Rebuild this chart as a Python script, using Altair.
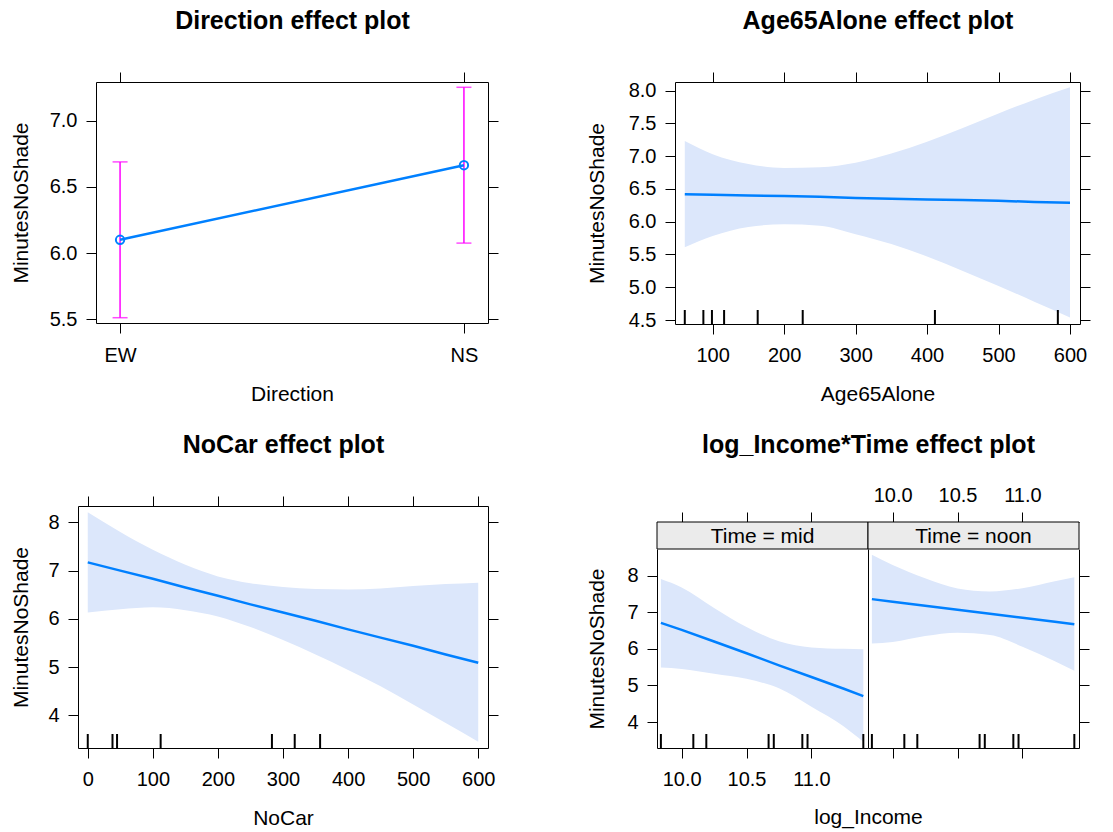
import altair as alt
import pandas as pd

W, H = 1113, 832
FONT = "Liberation Sans"
INK = "#000000"
FIT_BLUE = "#0080ff"
BAND_BLUE = "#dce7fb"
BAR_MAGENTA = "#ff00ff"
STRIP_GREY = "#ebebeb"

# ---- Direction effect ----
direction = ["EW", "NS"]
dir_fit = [6.10, 6.665]
dir_lower = [5.51, 6.075]
dir_upper = [6.69, 7.255]

# ---- Age65Alone effect ----
age_x = [61, 100, 150, 200, 250, 300, 350, 400, 450, 500, 550, 600]
age_fit = [6.42, 6.41, 6.40, 6.39, 6.38, 6.36, 6.35, 6.34, 6.33, 6.32, 6.30, 6.29]
age_lower = [5.61, 5.78, 5.92, 5.96, 5.94, 5.81, 5.66, 5.47, 5.25, 5.02, 4.78, 4.54]
age_upper = [7.23, 7.03, 6.88, 6.82, 6.83, 6.90, 7.04, 7.22, 7.43, 7.65, 7.86, 8.05]
age_rug = [61, 87, 99, 116, 163, 226, 411, 583]

# ---- NoCar effect ----
nocar_x = [0, 50, 100, 150, 200, 250, 300, 350, 400, 450, 500, 550, 600]
nocar_fit = [7.17, 7.00, 6.83, 6.65, 6.48, 6.30, 6.13, 5.96, 5.78, 5.61, 5.44, 5.26, 5.09]
nocar_lower = [6.13, 6.20, 6.24, 6.18, 6.05, 5.83, 5.56, 5.26, 4.94, 4.60, 4.22, 3.84, 3.45]
nocar_upper = [8.21, 7.80, 7.43, 7.12, 6.88, 6.74, 6.66, 6.62, 6.61, 6.63, 6.68, 6.72, 6.75]
nocar_rug = [0, 38, 45, 112, 283, 318, 357]

# ---- log_Income * Time effect ----
time_levels = ["mid", "noon"]
strip_labels = ["Time = mid", "Time = noon"]
inc_x = [9.84, 10.0, 10.25, 10.5, 10.75, 11.0, 11.25, 11.40]
mid_fit = [6.71, 6.52, 6.20, 5.88, 5.55, 5.23, 4.91, 4.71]
mid_lower = [5.49, 5.45, 5.32, 5.18, 4.92, 4.42, 3.88, 3.46]
mid_upper = [7.91, 7.68, 7.12, 6.60, 6.21, 6.04, 6.00, 5.99]
noon_fit = [7.36, 7.29, 7.18, 7.07, 6.96, 6.85, 6.74, 6.67]
noon_lower = [6.15, 6.19, 6.35, 6.44, 6.38, 6.06, 5.66, 5.40]
noon_upper = [8.57, 8.29, 7.93, 7.65, 7.57, 7.66, 7.85, 7.96]
inc_rug = [9.84, 10.09, 10.19, 10.67, 10.71, 10.93, 10.97, 11.40]


def make_axis(orient, edge, values=None, fmt=None, labels=False, ticks=True,
              label_pad=None, title=None, title_at=None, title_along=None,
              main=False):
    """Axis pinned to one edge of a panel frame inside the shared canvas."""
    offset = {"left": -edge, "right": edge - W,
              "top": -edge, "bottom": edge - H}[orient]
    kw = dict(orient=orient, offset=offset, labels=labels, ticks=ticks,
              tickSize=10, grid=False, domain=True, labelFlush=False,
              labelOverlap=False, labelAngle=0)
    if values is not None:
        kw["values"] = values
    if fmt:
        kw["format"] = fmt
    if labels:
        if orient in ("bottom", "top"):
            kw["labelBaseline"] = "alphabetic"
        kw["labelPadding"] = label_pad if label_pad is not None else 9
    if title:
        kw["title"] = title
        kw["titleBaseline"] = "alphabetic"
        if orient == "left":
            kw["titleX"] = title_at - edge
            kw["titleAngle"] = 270
        else:
            kw["titleY"] = title_at - edge
        if title_along is not None:
            kw["titleX"] = title_along
        if main:
            kw["titleFontWeight"] = "bold"
            kw["titleFontSize"] = 25
    else:
        kw["title"] = ""
    return alt.Axis(**kw)


def curve_panel(df, rug, xdom, ydom, L, R, T, B, xvals, yvals, xfmt, yfmt,
                xtitle, main, ytitle_x):
    xs = alt.Scale(domain=xdom, range=[L, R], nice=False, zero=False)
    ys = alt.Scale(domain=ydom, range=[B, T], nice=False, zero=False)
    band = alt.Chart(df).mark_area(color=BAND_BLUE, opacity=1,
                                   interpolate="monotone").encode(
        x=alt.X("x:Q", scale=xs,
                axis=make_axis("bottom", B, xvals, xfmt, labels=True, label_pad=27,
                               title=xtitle, title_at=B + 76)),
        y=alt.Y("lower:Q", scale=ys,
                axis=make_axis("left", L, yvals, yfmt, labels=True,
                               title="MinutesNoShade", title_at=ytitle_x)),
        y2="upper:Q",
    )
    line = alt.Chart(df).mark_line(color=FIT_BLUE, strokeWidth=2.5).encode(
        x=alt.X("x:Q", scale=xs,
                axis=make_axis("top", T, xvals, title=main, title_at=T - 54, main=True)),
        y=alt.Y("fit:Q", scale=ys, axis=make_axis("right", R, yvals)),
    )
    rugs = alt.Chart(rug).mark_rule(color=INK, strokeWidth=2).encode(
        x=alt.X("x:Q", scale=xs, axis=None),
        y=alt.value(B), y2=alt.value(B - 14),
    )
    return alt.layer(band, line, rugs).resolve_axis(x="independent", y="independent")


# ---- panel 1: Direction ----
L1, R1, T1, B1 = 96, 488, 82, 323
dir_df = pd.DataFrame({"Direction": direction, "fit": dir_fit,
                       "lower": dir_lower, "upper": dir_upper})
xs1 = alt.Scale(type="point", domain=direction, range=[L1, R1], padding=0.07)
ys1 = alt.Scale(domain=[5.47, 7.295], range=[B1, T1], nice=False, zero=False)
yv1 = [5.5, 6.0, 6.5, 7.0]
bars = alt.Chart(dir_df).mark_rule(color=BAR_MAGENTA, strokeWidth=1.5).encode(
    x=alt.X("Direction:N", scale=xs1,
            axis=make_axis("bottom", B1, labels=True, label_pad=28,
                           title="Direction", title_at=400)),
    y=alt.Y("lower:Q", scale=ys1,
            axis=make_axis("left", L1, yv1, ".1f", labels=True,
                           title="MinutesNoShade", title_at=27)),
    y2="upper:Q",
)
cap_lo = alt.Chart(dir_df).mark_tick(color=BAR_MAGENTA, thickness=1.5, size=15,
                                     orient="horizontal").encode(
    x=alt.X("Direction:N", scale=xs1, axis=None),
    y=alt.Y("lower:Q", scale=ys1, axis=None),
)
cap_hi = alt.Chart(dir_df).mark_tick(color=BAR_MAGENTA, thickness=1.5, size=15,
                                     orient="horizontal").encode(
    x=alt.X("Direction:N", scale=xs1, axis=None),
    y=alt.Y("upper:Q", scale=ys1, axis=None),
)
dir_line = alt.Chart(dir_df).mark_line(color=FIT_BLUE, strokeWidth=2.5).encode(
    x=alt.X("Direction:N", scale=xs1,
            axis=make_axis("top", T1, title="Direction effect plot",
                           title_at=28, main=True)),
    y=alt.Y("fit:Q", scale=ys1, axis=make_axis("right", R1, yv1)),
)
dir_pts = alt.Chart(dir_df).mark_point(color=FIT_BLUE, filled=False, size=70,
                                       strokeWidth=2, opacity=1).encode(
    x=alt.X("Direction:N", scale=xs1, axis=None),
    y=alt.Y("fit:Q", scale=ys1, axis=None),
)
p1 = alt.layer(bars, cap_lo, cap_hi, dir_line, dir_pts).resolve_axis(
    x="independent", y="independent")

# ---- panel 2: Age65Alone ----
age_df = pd.DataFrame({"x": age_x, "fit": age_fit, "lower": age_lower, "upper": age_upper})
p2 = curve_panel(age_df, pd.DataFrame({"x": age_rug}), [47.3, 614], [4.44, 8.13],
                 675, 1080, 82, 324, [100, 200, 300, 400, 500, 600],
                 [4.5, 5.0, 5.5, 6.0, 6.5, 7.0, 7.5, 8.0], "d", ".1f",
                 "Age65Alone", "Age65Alone effect plot", 603)

# ---- panel 3: NoCar ----
nocar_df = pd.DataFrame({"x": nocar_x, "fit": nocar_fit, "lower": nocar_lower,
                         "upper": nocar_upper})
p3 = curve_panel(nocar_df, pd.DataFrame({"x": nocar_rug}), [-15, 615], [3.32, 8.34],
                 78, 488, 506, 748, [0, 100, 200, 300, 400, 500, 600],
                 [4, 5, 6, 7, 8], "d", "d",
                 "NoCar", "NoCar effect plot", 27)

# ---- panel 4: log_Income by Time ----
L4, M4, R4, S4, T4, B4 = 657, 868, 1079, 522, 549, 748
inc_dom = [9.81, 11.436]
inc_ticks = [10.0, 10.5, 11.0]
y4 = [4, 5, 6, 7, 8]
ys4 = alt.Scale(domain=[3.29, 8.73], range=[B4, T4], nice=False, zero=False)
rug4 = pd.DataFrame({"x": inc_rug})

mid_df = pd.DataFrame({"x": inc_x, "fit": mid_fit, "lower": mid_lower, "upper": mid_upper})
xs_mid = alt.Scale(domain=inc_dom, range=[L4, M4], nice=False, zero=False)
mid_band = alt.Chart(mid_df).mark_area(color=BAND_BLUE, opacity=1,
                                       interpolate="monotone").encode(
    x=alt.X("x:Q", scale=xs_mid,
            axis=make_axis("bottom", B4, inc_ticks, ".1f", labels=True, label_pad=27,
                           title="log_Income", title_at=B4 + 75, title_along=M4)),
    y=alt.Y("lower:Q", scale=ys4,
            axis=make_axis("left", L4, y4, "d", labels=True,
                           title="MinutesNoShade", title_at=603)),
    y2="upper:Q",
)
mid_line = alt.Chart(mid_df).mark_line(color=FIT_BLUE, strokeWidth=2.5).encode(
    x=alt.X("x:Q", scale=xs_mid,
            axis=make_axis("top", S4, inc_ticks, title="log_Income*Time effect plot",
                           title_at=452, title_along=M4, main=True)),
    y=alt.Y("fit:Q", scale=ys4, axis=make_axis("right", M4, y4, ticks=False)),
)
mid_rug = alt.Chart(rug4).mark_rule(color=INK, strokeWidth=2).encode(
    x=alt.X("x:Q", scale=xs_mid, axis=None),
    y=alt.value(B4), y2=alt.value(B4 - 14),
)
p4_mid = alt.layer(mid_band, mid_line, mid_rug).resolve_axis(x="independent", y="independent")

noon_df = pd.DataFrame({"x": inc_x, "fit": noon_fit, "lower": noon_lower, "upper": noon_upper})
xs_noon = alt.Scale(domain=inc_dom, range=[M4, R4], nice=False, zero=False)
noon_band = alt.Chart(noon_df).mark_area(color=BAND_BLUE, opacity=1,
                                         interpolate="monotone").encode(
    x=alt.X("x:Q", scale=xs_noon,
            axis=make_axis("top", S4, inc_ticks, ".1f", labels=True, label_pad=11)),
    y=alt.Y("lower:Q", scale=ys4, axis=make_axis("right", R4, y4)),
    y2="upper:Q",
)
noon_line = alt.Chart(noon_df).mark_line(color=FIT_BLUE, strokeWidth=2.5).encode(
    x=alt.X("x:Q", scale=xs_noon, axis=make_axis("bottom", B4, inc_ticks)),
    y=alt.Y("fit:Q", scale=ys4, axis=None),
)
noon_rug = alt.Chart(rug4).mark_rule(color=INK, strokeWidth=2).encode(
    x=alt.X("x:Q", scale=xs_noon, axis=None),
    y=alt.value(B4), y2=alt.value(B4 - 14),
)
p4_noon = alt.layer(noon_band, noon_line, noon_rug).resolve_axis(x="independent", y="independent")

# strip headers above the two Time panels
strip_df = pd.DataFrame({"Time": time_levels, "label": strip_labels})
xs_strip = alt.Scale(type="band", domain=time_levels, range=[L4, R4],
                     paddingInner=0, paddingOuter=0)
strip_box = alt.Chart(strip_df).mark_rect(fill=STRIP_GREY, stroke=INK, strokeWidth=1).encode(
    x=alt.X("Time:N", scale=xs_strip, axis=None),
    y=alt.value(S4), y2=alt.value(T4),
)
strip_txt = alt.Chart(strip_df).mark_text(font=FONT, fontSize=21, color=INK,
                                          baseline="middle").encode(
    x=alt.X("Time:N", scale=xs_strip, axis=None),
    y=alt.value((S4 + T4) / 2 + 1),
    text="label:N",
)
strip = alt.layer(strip_box, strip_txt)

chart = alt.layer(p1, p2, p3, p4_mid, p4_noon, strip).resolve_scale(
    x="independent", y="independent"
).properties(
    width=W, height=H, padding=0,
    autosize=alt.AutoSizeParams(type="none"),
    background="white",
).configure_view(
    stroke=None
).configure_axis(
    labelFont=FONT, labelFontSize=20, labelColor=INK,
    titleFont=FONT, titleFontSize=21, titleFontWeight="normal", titleColor=INK,
    tickColor=INK, tickWidth=1, domainColor=INK, domainWidth=1,
)

chart.save("out.html", embed_options={"renderer": "svg", "actions": False})
